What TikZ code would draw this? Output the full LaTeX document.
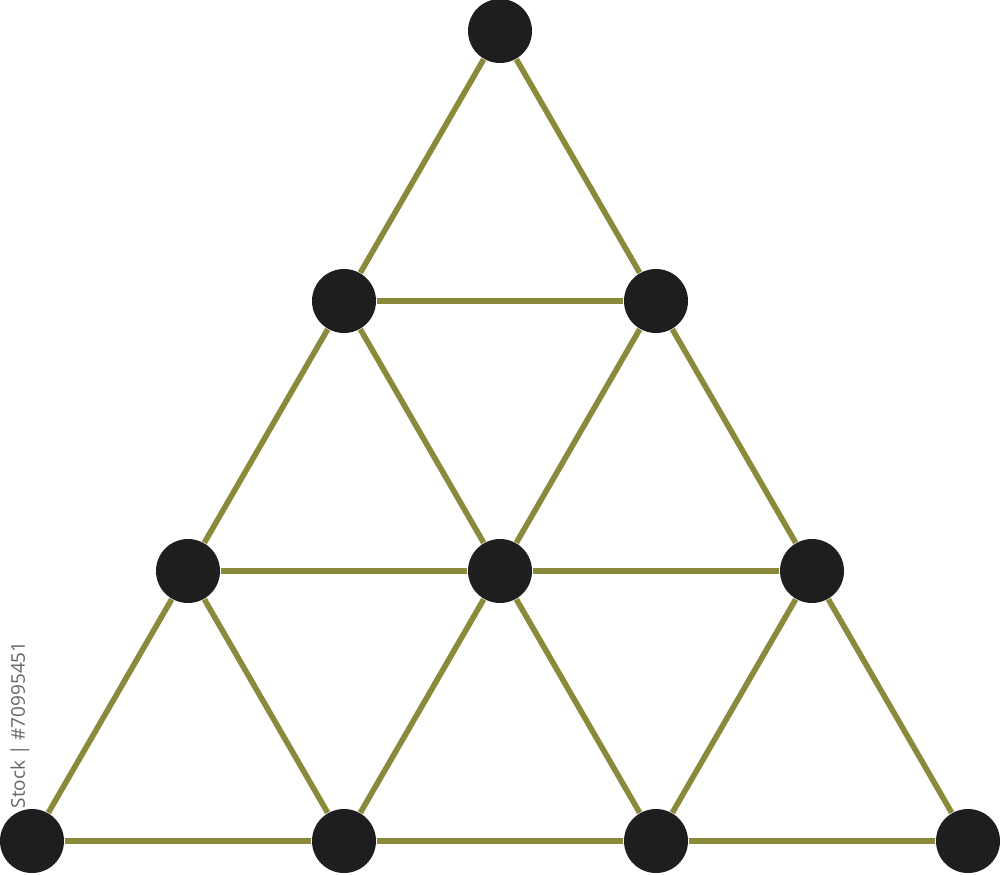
\documentclass[tikz,border=0pt]{standalone}
\usepackage{fontspec}
\setsansfont{Open Sans}
\usepackage{tikz}

\definecolor{rodolive}{HTML}{8A8A3A}
\definecolor{balldark}{HTML}{1E1E1E}

\begin{document}
\begin{tikzpicture}
  \useasboundingbox (0,0) rectangle (10,8.74);
  \tikzset{
    ball/.style={circle, fill=balldark, inner sep=0pt, minimum size=0.64cm},
    rod/.style={draw=rodolive, line width=1.6pt}
  }
  \node (mark) [rotate=90, text=black!60, inner sep=0pt, font=\sffamily\fontsize{5.4}{6}\selectfont] at (0.2,1.18) {Adobe Stock | \#70995451};
  % rows of balls, top to bottom
  \node (a1) [ball] at (5,8.43) {};
  \node (b1) [ball] at (3.44,5.73) {};
  \node (b2) [ball] at (6.56,5.73) {};
  \node (c1) [ball] at (1.88,3.03) {};
  \node (c2) [ball] at (5,3.03) {};
  \node (c3) [ball] at (8.12,3.03) {};
  \node (d1) [ball] at (0.32,0.33) {};
  \node (d2) [ball] at (3.44,0.33) {};
  \node (d3) [ball] at (6.56,0.33) {};
  \node (d4) [ball] at (9.68,0.33) {};
  % horizontal rods
  \draw[rod] (b1) -- (b2);
  \draw[rod] (c1) -- (c2);
  \draw[rod] (c2) -- (c3);
  \draw[rod] (d1) -- (d2);
  \draw[rod] (d2) -- (d3);
  \draw[rod] (d3) -- (d4);
  % rods going down to the left
  \draw[rod] (a1) -- (b1);
  \draw[rod] (b1) -- (c1);
  \draw[rod] (c1) -- (d1);
  \draw[rod] (b2) -- (c2);
  \draw[rod] (c2) -- (d2);
  \draw[rod] (c3) -- (d3);
  % rods going down to the right
  \draw[rod] (a1) -- (b2);
  \draw[rod] (b2) -- (c3);
  \draw[rod] (c3) -- (d4);
  \draw[rod] (b1) -- (c2);
  \draw[rod] (c2) -- (d3);
  \draw[rod] (c1) -- (d2);
\end{tikzpicture}
\end{document}
